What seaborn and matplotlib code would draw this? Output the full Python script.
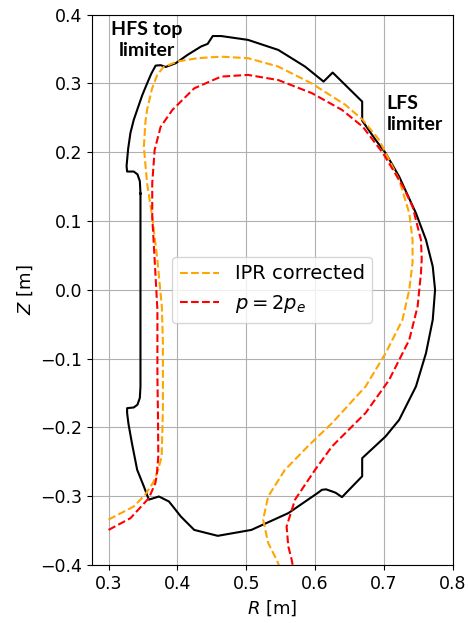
import matplotlib
matplotlib.use("Agg")
import matplotlib.pyplot as plt
import seaborn as sns
import pandas as pd

# Wall (limiter) contour
wall_R = [0.3464, 0.3455, 0.3420, 0.3366, 0.3270, 0.3262, 0.3285, 0.3318, 0.3366, 0.3416,
          0.3490, 0.3560, 0.3620, 0.3684, 0.3757, 0.3830, 0.3977, 0.4148, 0.4343, 0.4440,
          0.4514, 0.4635, 0.5026, 0.5466, 0.5855, 0.6124, 0.6256, 0.6685, 0.6685, 0.6880,
          0.7026, 0.7222, 0.7466, 0.7612, 0.7710, 0.7744, 0.7710, 0.7612, 0.7466, 0.7222,
          0.7026, 0.6685, 0.6685, 0.6392, 0.6300, 0.6246, 0.6160, 0.6100, 0.6036, 0.5612,
          0.5075, 0.4587, 0.4245, 0.4050, 0.3960, 0.3878, 0.3732, 0.3586, 0.3510, 0.3416,
          0.3340, 0.3290, 0.3270, 0.3270, 0.3366, 0.3420, 0.3455, 0.3464, 0.3464]
wall_Z = [0.140, 0.158, 0.168, 0.172, 0.172, 0.180, 0.205, 0.228, 0.247, 0.2616,
          0.283, 0.300, 0.314, 0.326, 0.3266, 0.324, 0.3295, 0.3416, 0.3537, 0.3576,
          0.369, 0.369, 0.3634, 0.3488, 0.3246, 0.3028, 0.3159, 0.2737, 0.246, 0.218,
          0.1987, 0.1647, 0.1115, 0.0727, 0.034, 0.000, -0.0436, -0.092, -0.1405, -0.189,
          -0.213, -0.2447, -0.271, -0.3013, -0.295, -0.293, -0.290, -0.2907, -0.2955, -0.3246,
          -0.349, -0.3576, -0.349, -0.3295, -0.318, -0.3077, -0.3004, -0.305, -0.285, -0.2616,
          -0.223, -0.195, -0.179, -0.172, -0.171, -0.167, -0.157, -0.1405, 0.140]

# IPR corrected boundary
ipr_R = [0.300, 0.3366, 0.3530, 0.3650, 0.3720, 0.3772, 0.3790, 0.3790, 0.3775, 0.3710,
         0.3635, 0.3560, 0.3513, 0.3537, 0.3560, 0.3630, 0.3709, 0.3800, 0.4000, 0.4294,
         0.4635, 0.5026, 0.5466, 0.5953, 0.6440, 0.6695, 0.6930, 0.7222, 0.7369, 0.7417,
         0.7417, 0.7369, 0.7270, 0.7026, 0.6734, 0.6246, 0.5900, 0.5560, 0.5319, 0.5246,
         0.5319, 0.5440, 0.5474]
ipr_Z = [-0.334, -0.315, -0.298, -0.280, -0.262, -0.242, -0.174, -0.0775, -0.025, 0.0436,
         0.1065, 0.155, 0.208, 0.245, 0.2616, 0.292, 0.313, 0.324, 0.332, 0.3368,
         0.339, 0.3368, 0.3246, 0.300, 0.269, 0.247, 0.218, 0.160, 0.1115, 0.0727,
         0.040, 0.000, -0.0436, -0.092, -0.1405, -0.1938, -0.227, -0.262, -0.3004, -0.334,
         -0.368, -0.392, -0.400]

# p = 2 p_e boundary
p2_R = [0.300, 0.3318, 0.3586, 0.3680, 0.3700, 0.3723, 0.3718, 0.3710, 0.3710, 0.3670,
        0.3635, 0.3635, 0.3670, 0.3757, 0.3928, 0.4245, 0.4635, 0.5026, 0.5466, 0.5953,
        0.6392, 0.6695, 0.6988, 0.7280, 0.7417, 0.7539, 0.7550, 0.7539, 0.7490, 0.7369,
        0.7076, 0.6734, 0.6246, 0.6001, 0.5709, 0.5587, 0.5612, 0.5660, 0.5675]
p2_Z = [-0.349, -0.332, -0.3028, -0.281, -0.270, -0.242, -0.180, -0.126, -0.029, 0.0436,
        0.1065, 0.155, 0.2035, 0.237, 0.2616, 0.293, 0.310, 0.3125, 0.305, 0.286,
        0.2616, 0.237, 0.1986, 0.150, 0.121, 0.0727, 0.045, 0.0242, -0.0242, -0.0727,
        -0.131, -0.179, -0.2277, -0.2616, -0.305, -0.344, -0.373, -0.392, -0.400]

x_ticks = [0.3, 0.4, 0.5, 0.6, 0.7, 0.8]
y_ticks = [-0.4, -0.3, -0.2, -0.1, 0.0, 0.1, 0.2, 0.3, 0.4]

fig = plt.figure(figsize=(4.68, 6.23), dpi=100)
ax = fig.add_axes([0.1966, 0.0931, 0.7707, 0.8833])

wall = pd.DataFrame({"R": wall_R, "Z": wall_Z})
ipr = pd.DataFrame({"R": ipr_R, "Z": ipr_Z})
p2 = pd.DataFrame({"R": p2_R, "Z": p2_Z})

sns.lineplot(data=wall, x="R", y="Z", sort=False, estimator=None, color="black", lw=1.5, ax=ax)
sns.lineplot(data=ipr, x="R", y="Z", sort=False, estimator=None, color="orange", lw=1.5,
             linestyle="--", label="IPR corrected", ax=ax)
sns.lineplot(data=p2, x="R", y="Z", sort=False, estimator=None, color="red", lw=1.5,
             linestyle="--", label=r"$p = 2p_e$", ax=ax)

ax.set_xlim(0.276, 0.8)
ax.set_ylim(-0.4, 0.4)
ax.set_xticks(x_ticks)
ax.set_yticks(y_ticks)
ax.tick_params(labelsize=12.5)
ax.grid(True, color="#b0b0b0", lw=0.8)
ax.set_xlabel(r"$R$ [m]", fontsize=13)
ax.set_ylabel(r"$Z$ [m]", fontsize=13)

ax.text(0.356, 0.391, "HFS top\nlimiter", ha="center", va="top", multialignment="center",
        fontsize=14, fontweight="bold", family="Lato", linespacing=1.3)
ax.text(0.7037, 0.283, "LFS\nlimiter", ha="left", va="top", multialignment="left",
        fontsize=14, fontweight="bold", family="Lato", linespacing=1.3)

ax.legend(loc="center", fontsize=14)

fig.savefig("out.png", dpi=100)
